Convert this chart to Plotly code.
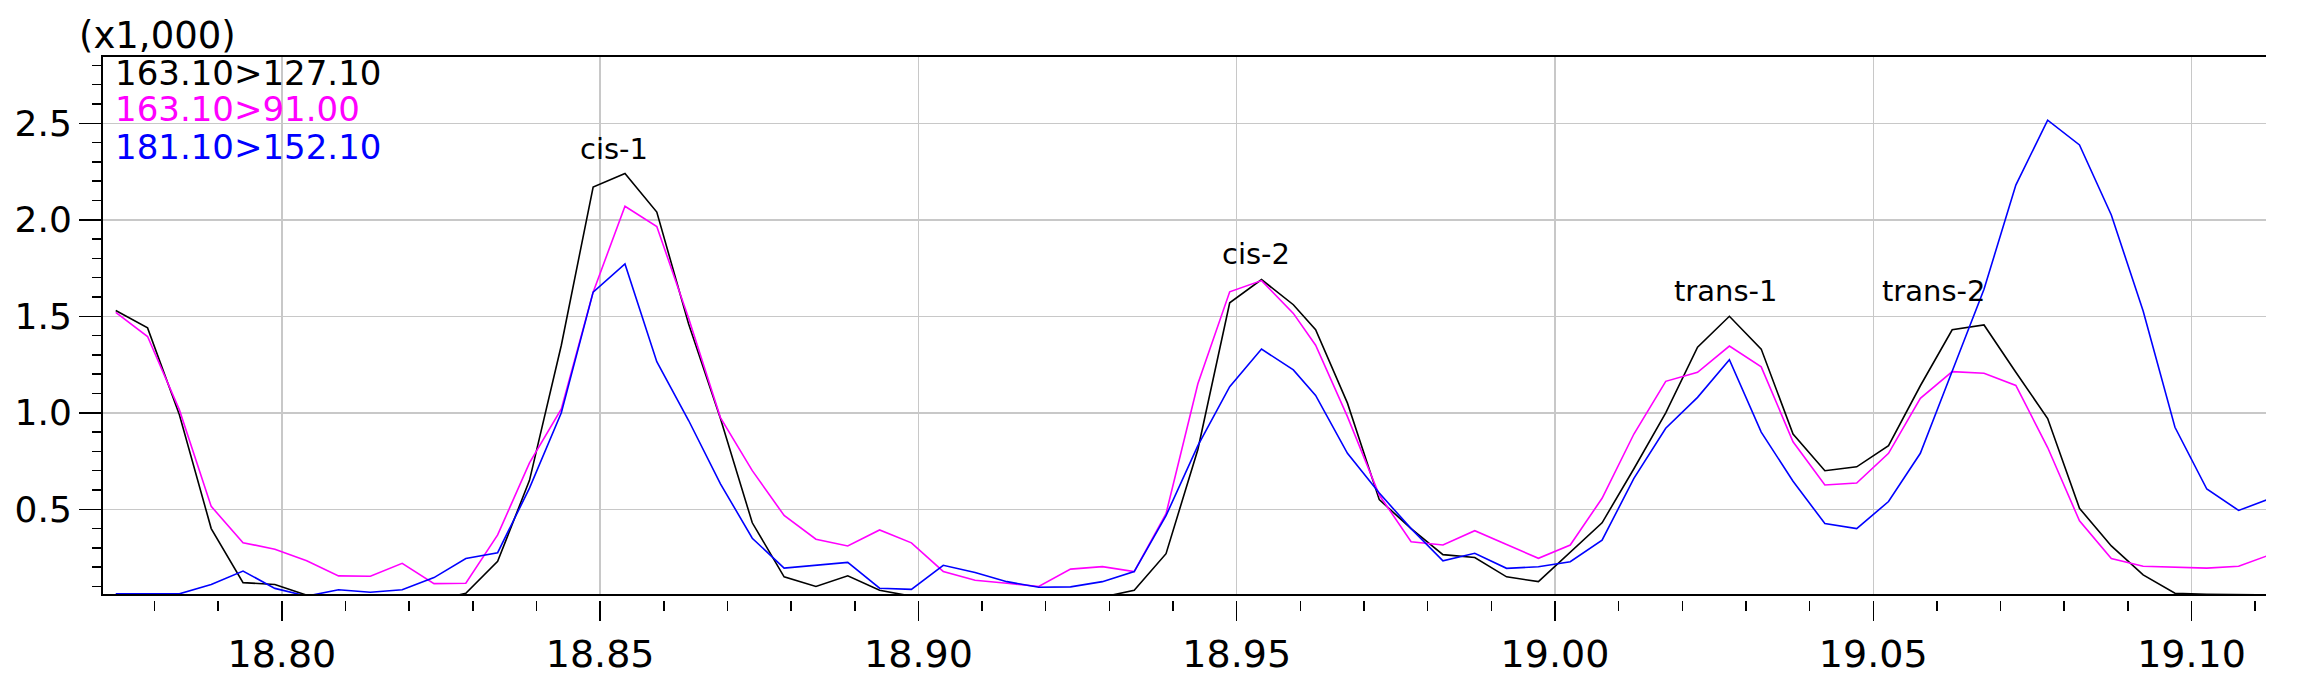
import plotly.graph_objects as go

# ---------------- data (intensity in thousands of counts) ----------------
retention_time = [
    18.7739, 18.7789, 18.7839, 18.7889, 18.7939, 18.7989, 18.8039, 18.8089, 18.8139, 18.8189,
    18.8239, 18.8289, 18.8339, 18.8389, 18.8439, 18.8489, 18.8539, 18.8589, 18.8639, 18.8689,
    18.8739, 18.8789, 18.8839, 18.8889, 18.8939, 18.8989, 18.9039, 18.9089, 18.9139, 18.9189,
    18.9239, 18.9289, 18.9339, 18.9389, 18.9439, 18.9489, 18.9539, 18.9589, 18.9624, 18.9674,
    18.9724, 18.9774, 18.9824, 18.9874, 18.9924, 18.9974, 19.0024, 19.0074, 19.0124, 19.0174,
    19.0224, 19.0274, 19.0324, 19.0374, 19.0424, 19.0474, 19.0524, 19.0574, 19.0624, 19.0674,
    19.0724, 19.0774, 19.0824, 19.0874, 19.0924, 19.0974, 19.1024, 19.1074, 19.1124,
]

mrm_163_127 = [
    1.53, 1.44, 0.99, 0.40, 0.12, 0.11, 0.055, 0.025, 0.0, 0.0,
    0.025, 0.065, 0.23, 0.65, 1.35, 2.17, 2.24, 2.04, 1.46, 0.97,
    0.43, 0.15, 0.10, 0.155, 0.08, 0.05, 0.035, 0.02, 0.0, 0.0,
    0.01, 0.045, 0.08, 0.27, 0.81, 1.57, 1.69, 1.56, 1.43, 1.05,
    0.55, 0.40, 0.265, 0.25, 0.15, 0.125, 0.28, 0.43, 0.71, 1.00,
    1.34, 1.50, 1.33, 0.89, 0.70, 0.72, 0.83, 1.14, 1.43, 1.455,
    1.21, 0.97, 0.505, 0.31, 0.16, 0.065, 0.06, 0.058, 0.056,
]

mrm_163_91 = [
    1.52, 1.395, 1.015, 0.515, 0.327, 0.293, 0.233, 0.155, 0.153, 0.22,
    0.115, 0.117, 0.367, 0.74, 1.02, 1.625, 2.07, 1.965, 1.49, 0.975,
    0.70, 0.468, 0.345, 0.31, 0.393, 0.326, 0.178, 0.132, 0.117, 0.10,
    0.19, 0.203, 0.177, 0.477, 1.15, 1.627, 1.685, 1.515, 1.35, 0.98,
    0.574, 0.332, 0.315, 0.389, 0.318, 0.246, 0.315, 0.557, 0.89, 1.163,
    1.21, 1.346, 1.238, 0.85, 0.626, 0.636, 0.79, 1.075, 1.213, 1.205,
    1.142, 0.82, 0.44, 0.245, 0.205, 0.199, 0.195, 0.205, 0.265,
]

mrm_181_152 = [
    0.062, 0.062, 0.062, 0.11, 0.18, 0.09, 0.05, 0.083, 0.07, 0.083,
    0.146, 0.245, 0.275, 0.61, 1.0, 1.625, 1.771, 1.265, 0.96, 0.632,
    0.35, 0.195, 0.21, 0.225, 0.091, 0.085, 0.21, 0.172, 0.125, 0.096,
    0.098, 0.125, 0.177, 0.467, 0.83, 1.135, 1.33, 1.222, 1.09, 0.79,
    0.584, 0.40, 0.233, 0.272, 0.194, 0.202, 0.228, 0.34, 0.66, 0.92,
    1.08, 1.275, 0.90, 0.645, 0.426, 0.40, 0.54, 0.79, 1.215, 1.64,
    2.18, 2.516, 2.388, 2.025, 1.527, 0.925, 0.605, 0.494, 0.556,
]

series_names = ["163.10>127.10", "163.10>91.00", "181.10>152.10"]
series_values = [mrm_163_127, mrm_163_91, mrm_181_152]

peak_names = ["cis-1", "cis-2", "trans-1", "trans-2"]
peak_rt = [18.8521, 18.9530, 19.0268, 19.0595]
peak_label_level = [2.367, 1.822, 1.633, 1.633]

x_tick_values = [18.80, 18.85, 18.90, 18.95, 19.00, 19.05, 19.10]
x_tick_labels = ["18.80", "18.85", "18.90", "18.95", "19.00", "19.05", "19.10"]
y_tick_values = [0.5, 1.0, 1.5, 2.0, 2.5]
y_tick_labels = ["0.5", "1.0", "1.5", "2.0", "2.5"]
y_scale_label = "(x1,000)"

# ---------------- styling ----------------
colors = ["#000000", "#ff00ff", "#0000ff"]
FONT = "DejaVu Sans"
X_RANGE = [18.7719, 19.1117]
Y_RANGE = [0.061, 2.8435]
W, H = 2298, 687
ML, MR, MT, MB = 103, 32, 57, 87
plot_w = W - ML - MR
plot_h = H - MT - MB
gap = 6 / plot_h  # gap between axis line and the tick marks

fig = go.Figure()
for name, vals, col in zip(series_names, series_values, colors):
    fig.add_trace(go.Scatter(
        x=retention_time, y=vals, mode="lines", name=name,
        line=dict(color=col, width=1.6), hoverinfo="skip", showlegend=False,
    ))

# invisible trace to bind the tick-only axis
fig.add_trace(go.Scatter(x=[X_RANGE[0]], y=[Y_RANGE[0]], xaxis="x2", yaxis="y",
                         mode="lines", showlegend=False, hoverinfo="skip"))

fig.update_layout(
    width=W, height=H,
    margin=dict(l=ML, r=MR, t=MT, b=MB, pad=0),
    paper_bgcolor="white", plot_bgcolor="white",
    font=dict(family=FONT, color="black"),
    showlegend=False,
    xaxis=dict(
        range=X_RANGE, anchor="y",
        tickvals=x_tick_values, ticktext=x_tick_labels,
        showticklabels=False, ticks="",
        showgrid=True, gridcolor="#c8c8c8", gridwidth=1.5,
        showline=True, linecolor="black", linewidth=2, mirror=True,
        zeroline=False,
    ),
    xaxis2=dict(
        range=X_RANGE, overlaying="x", anchor="free", position=0,
        tickmode="array", tickvals=x_tick_values, ticktext=x_tick_labels,
        ticks="outside", ticklen=20, tickwidth=1.5, tickcolor="black",
        minor=dict(dtick=0.01, tick0=18.80, ticks="outside", ticklen=10,
                   tickwidth=1.5, tickcolor="black", showgrid=False),
        tickfont=dict(family=FONT, size=38, color="black"),
        showgrid=False, showline=False, zeroline=False,
    ),
    yaxis=dict(
        range=Y_RANGE, domain=[gap, 1],
        tickmode="array", tickvals=y_tick_values, ticktext=y_tick_labels,
        ticks="outside", ticklen=22, tickwidth=1.5, tickcolor="black",
        minor=dict(dtick=0.1, tick0=0, ticks="outside", ticklen=9,
                   tickwidth=1.5, tickcolor="black", showgrid=False),
        tickfont=dict(family=FONT, size=36, color="black"),
        showgrid=True, gridcolor="#c8c8c8", gridwidth=1.5,
        showline=True, linecolor="black", linewidth=2,
        zeroline=False,
    ),
)

# series legend as coloured text in the upper-left corner
legend_y_px = [73, 109, 147]
for name, col, ypx in zip(series_names, colors, legend_y_px):
    fig.add_annotation(
        xref="paper", yref="paper",
        x=(113 - ML) / plot_w, y=(MT + plot_h - ypx) / plot_h,
        text=name, showarrow=False, xanchor="left", yanchor="middle",
        font=dict(family=FONT, size=34, color=col),
    )

# y scale label
fig.add_annotation(
    xref="paper", yref="paper",
    x=(77 - ML) / plot_w, y=(MT + plot_h - 36) / plot_h,
    text=y_scale_label, showarrow=False, xanchor="left", yanchor="middle",
    font=dict(family=FONT, size=37, color="black"),
)

# peak labels
for name, rt, lvl in zip(peak_names, peak_rt, peak_label_level):
    fig.add_annotation(
        x=rt, y=lvl, xref="x", yref="y", text=name, showarrow=False,
        xanchor="center", yanchor="middle",
        font=dict(family=FONT, size=29, color="black"),
    )

fig.write_html(
    "out.html",
    config={"displayModeBar": False, "staticPlot": True},
    post_script="document.body.style.margin='0px';",
)
